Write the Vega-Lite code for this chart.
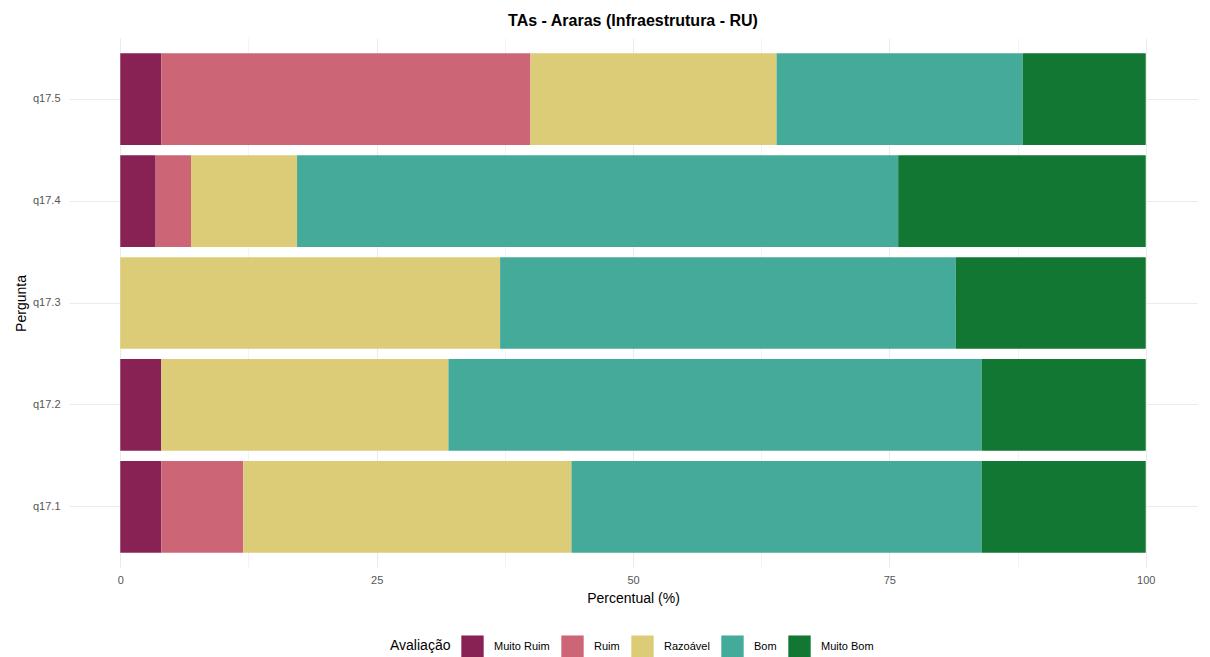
{
  "$schema": "https://vega.github.io/schema/vega-lite/v6.json",
  "width": 1128,
  "height": 530,
  "autosize": {"type": "none"},
  "padding": {"left": 69, "top": 38, "right": 13, "bottom": 89},
  "background": "white",
  "title": {
    "text": "TAs - Araras (Infraestrutura - RU)",
    "font": "Liberation Sans",
    "fontSize": 16,
    "fontWeight": "bold",
    "color": "#000000",
    "anchor": "middle",
    "offset": 9
  },
  "config": {
    "view": {"stroke": null},
    "font": "Liberation Sans"
  },
  "data": {
    "values": [
      {"pergunta": "q17.5", "avaliacao": "Muito Ruim", "nivel": 1, "pct": 4},
      {"pergunta": "q17.5", "avaliacao": "Ruim", "nivel": 2, "pct": 36},
      {"pergunta": "q17.5", "avaliacao": "Razoável", "nivel": 3, "pct": 24},
      {"pergunta": "q17.5", "avaliacao": "Bom", "nivel": 4, "pct": 24},
      {"pergunta": "q17.5", "avaliacao": "Muito Bom", "nivel": 5, "pct": 12},
      {"pergunta": "q17.4", "avaliacao": "Muito Ruim", "nivel": 1, "pct": 3.45},
      {"pergunta": "q17.4", "avaliacao": "Ruim", "nivel": 2, "pct": 3.45},
      {"pergunta": "q17.4", "avaliacao": "Razoável", "nivel": 3, "pct": 10.34},
      {"pergunta": "q17.4", "avaliacao": "Bom", "nivel": 4, "pct": 58.62},
      {"pergunta": "q17.4", "avaliacao": "Muito Bom", "nivel": 5, "pct": 24.14},
      {"pergunta": "q17.3", "avaliacao": "Razoável", "nivel": 3, "pct": 37.04},
      {"pergunta": "q17.3", "avaliacao": "Bom", "nivel": 4, "pct": 44.44},
      {"pergunta": "q17.3", "avaliacao": "Muito Bom", "nivel": 5, "pct": 18.52},
      {"pergunta": "q17.2", "avaliacao": "Muito Ruim", "nivel": 1, "pct": 4},
      {"pergunta": "q17.2", "avaliacao": "Razoável", "nivel": 3, "pct": 28},
      {"pergunta": "q17.2", "avaliacao": "Bom", "nivel": 4, "pct": 52},
      {"pergunta": "q17.2", "avaliacao": "Muito Bom", "nivel": 5, "pct": 16},
      {"pergunta": "q17.1", "avaliacao": "Muito Ruim", "nivel": 1, "pct": 4},
      {"pergunta": "q17.1", "avaliacao": "Ruim", "nivel": 2, "pct": 8},
      {"pergunta": "q17.1", "avaliacao": "Razoável", "nivel": 3, "pct": 32},
      {"pergunta": "q17.1", "avaliacao": "Bom", "nivel": 4, "pct": 40},
      {"pergunta": "q17.1", "avaliacao": "Muito Bom", "nivel": 5, "pct": 16}
    ]
  },
  "mark": {"type": "bar", "stroke": null},
  "encoding": {
    "y": {
      "field": "pergunta",
      "type": "nominal",
      "sort": "descending",
      "scale": {"paddingInner": 0.1, "paddingOuter": 0.15},
      "axis": {
        "title": "Pergunta",
        "titleFont": "Liberation Sans",
        "titleFontSize": 14,
        "titleFontWeight": "normal",
        "titleColor": "#000000",
        "titlePadding": 4,
        "labelFont": "Liberation Sans",
        "labelFontSize": 11,
        "labelColor": "#555555",
        "labelPadding": 9,
        "domain": false,
        "ticks": false,
        "grid": true,
        "gridColor": "#ebebeb",
        "gridWidth": 1
      }
    },
    "x": {
      "field": "pct",
      "type": "quantitative",
      "stack": "zero",
      "scale": {"domain": [-5, 105], "nice": false, "zero": false},
      "axis": {
        "title": "Percentual (%)",
        "titleFont": "Liberation Sans",
        "titleFontSize": 14,
        "titleFontWeight": "normal",
        "titleColor": "#000000",
        "titlePadding": 6,
        "values": [0, 12.5, 25, 37.5, 50, 62.5, 75, 87.5, 100],
        "labelExpr": "datum.value % 25 === 0 ? datum.label : ''",
        "labelFont": "Liberation Sans",
        "labelFontSize": 11,
        "labelColor": "#555555",
        "labelPadding": 6,
        "labelFlush": false,
        "domain": false,
        "ticks": false,
        "grid": true,
        "gridColor": {"condition": {"test": "datum.value % 25 === 0", "value": "#ebebeb"}, "value": "#f3f3f3"},
        "gridWidth": 1
      }
    },
    "color": {
      "field": "avaliacao",
      "type": "nominal",
      "scale": {
        "domain": ["Muito Ruim", "Ruim", "Razoável", "Bom", "Muito Bom"],
        "range": ["#882255", "#CC6677", "#DDCC77", "#44AA99", "#117733"]
      },
      "legend": {
        "title": "Avaliação",
        "orient": "none",
        "legendX": 321,
        "legendY": 597,
        "direction": "horizontal",
        "titleOrient": "left",
        "titleAnchor": "middle",
        "titleBaseline": "middle",
        "titleFont": "Liberation Sans",
        "titleFontSize": 14,
        "titleFontWeight": "normal",
        "titleColor": "#000000",
        "titlePadding": 10,
        "symbolType": "square",
        "symbolSize": 500,
        "symbolStrokeWidth": 0,
        "symbolOpacity": 1,
        "labelFont": "Liberation Sans",
        "labelFontSize": 11,
        "labelColor": "#000000",
        "labelOffset": 10,
        "columnPadding": 11,
        "columns": 5
      }
    },
    "order": {"field": "nivel", "type": "quantitative", "sort": "ascending"}
  }
}
